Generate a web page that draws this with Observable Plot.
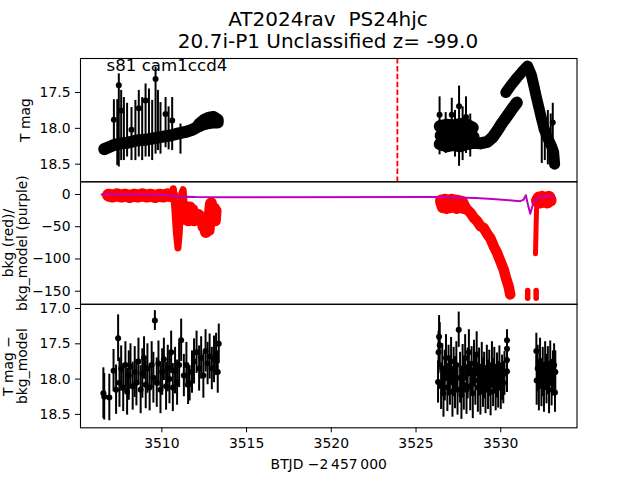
<!DOCTYPE html>
<html>
<head>
<meta charset="utf-8">
<script src="https://cdn.jsdelivr.net/npm/d3@7"></script>
<script src="https://cdn.jsdelivr.net/npm/@observablehq/plot@0.6"></script>
<style>
  html, body { margin: 0; padding: 0; background: #fff; }
  #fig { position: relative; width: 640px; height: 480px; overflow: hidden; font-family: "DejaVu Sans", sans-serif; color: #000; }
  #fig svg { position: absolute; left: 0; top: 0; }
  #ttl { position: absolute; left: 0; top: 9px; width: 656px; text-align: center; font-size: 20px; line-height: 21.6px; white-space: pre; }
</style>
</head>
<body>
<div id="fig">
  <div id="ttl"></div>
</div>
<script>
// ---------------- text ----------------
const titleLines = ["AT2024rav  PS24hjc", "20.7i-P1 Unclassified z= -99.0"];
const sectorLabel = "s81 cam1ccd4";
const xLabel = "BTJD \u22122\u2009457\u2009000";
const yLabelTop = ["T mag"];
const yLabelMid = ["bkg (red)/", "bkg_model (purple)"];
const yLabelBot = ["T mag \u2212", "bkg_model"];

// ---------------- axes ticks ----------------
const xTicks = [3510, 3515, 3520, 3525, 3530];
const yTicksTop = [17.5, 18.0, 18.5];
const yTicksMid = [0, -50, -100, -150];
const yTicksBot = [17.0, 17.5, 18.0, 18.5];
const xDomain = [3505.2, 3534.5];
const yDomainTop = [18.746, 17.025];
const yDomainMid = [-170.3, 19.7];
const yDomainBot = [18.69, 16.94];

// discovery epoch (dashed red line)
const discoveryT = [3523.9];

// ---------------- top panel: T mag (dense band, [t, mag]) ----------------
const topBandA = [[3506.6,18.29],[3506.9,18.26],[3507.2,18.23],[3507.6,18.21],[3508.0,18.20],[3508.5,18.17],[3509.0,18.16],[3509.5,18.14],[3510.0,18.12],[3510.5,18.10],[3511.0,18.07],[3511.4,18.05],[3511.8,18.02],[3512.1,17.98],[3512.4,17.95],[3512.7,17.93],[3513.0,17.92],[3513.3,17.92]];
const topBandA2 = [[3512.2,17.94],[3512.5,17.88],[3512.8,17.85],[3513.05,17.84],[3513.3,17.88]];
const topBandB1 = [[3526.40,17.97],[3526.8,17.95],[3527.2,17.96],[3527.6,17.94],[3528.0,17.95],[3528.35,17.99]];
const topBandBm = [[3526.45,18.10],[3526.9,18.08],[3527.3,18.11],[3527.7,18.08],[3528.1,18.10],[3528.4,18.12]];
const topBandB2 = [[3526.40,18.22],[3526.8,18.25],[3527.2,18.23],[3527.6,18.25],[3528.0,18.22],[3528.4,18.20],[3528.8,18.21],[3529.2,18.19],[3529.5,18.13],[3529.8,18.03],[3530.1,17.92],[3530.4,17.82],[3530.7,17.72],[3530.95,17.64]];
const topBandB3 = [[3530.30,17.50],[3530.6,17.40],[3530.97,17.29],[3531.3,17.20],[3531.58,17.13],[3531.8,17.25],[3531.95,17.40],[3532.1,17.56],[3532.25,17.71],[3532.4,17.86],[3532.54,17.99],[3532.7,18.10],[3532.84,18.17],[3533.0,18.25],[3533.12,18.33],[3533.18,18.50]];
// error bars [t, top, bottom] and points [t, mag]
const topBars = [[3507.17,17.60,18.31],[3507.37,17.60,18.52],[3507.46,17.24,18.54],[3507.60,17.47,18.45],[3507.76,17.57,18.45],[3507.95,17.65,18.40],[3508.21,17.71,18.45],[3508.44,17.61,18.45],[3508.64,17.47,18.40],[3508.84,17.57,18.45],[3509.04,17.38,18.40],[3509.24,17.45,18.40],[3509.43,17.61,18.45],[3509.63,17.15,18.36],[3509.77,17.47,18.31],[3509.92,17.64,18.36],[3510.22,17.57,18.27],[3510.40,17.70,18.30],[3510.61,17.57,18.31],[3511.10,17.94,18.36],
  [3526.39,17.56,18.37],[3526.75,17.78,18.35],[3527.11,17.58,18.32],[3527.30,17.75,18.40],[3527.54,17.41,18.53],[3527.75,17.70,18.45],[3527.95,17.56,18.35],[3528.20,17.80,18.40],[3532.42,17.75,18.49],[3532.60,17.85,18.45],[3532.78,17.75,18.51],[3532.95,17.80,18.55],[3533.07,17.65,18.39]];
const topPoints = [[3507.17,17.88],[3507.46,17.40],[3507.60,17.75],[3508.21,18.02],[3508.64,17.72],[3509.04,17.61],[3509.63,17.31],[3510.22,17.80],[3510.61,17.89],
  [3526.39,17.81],[3527.11,17.81],[3527.54,17.69],[3527.95,17.84],[3532.42,18.02],[3533.07,17.92]];

// ---------------- middle panel: bkg (red) and bkg_model (purple), [t, value] ----------------
const bkgA1 = [[3506.85,-1],[3507.1,-2.5],[3507.35,-0.5],[3507.6,-2.5],[3507.85,-1],[3508.1,-3],[3508.35,-1],[3508.6,-2.5],[3508.85,-0.5],[3509.1,-2.5],[3509.35,-1],[3509.6,-3],[3509.85,-1],[3510.1,-2.5],[3510.35,-0.5],[3510.6,-2]];
const bkgA2 = [[3510.6,-2],[3510.68,9],[3510.76,-20],[3510.86,-60],[3510.95,-83],[3511.02,-62],[3511.1,-25],[3511.18,2],[3511.26,7.5],[3511.32,-18],[3511.40,-30]];
const bkgA3 = [[3511.32,-18],[3511.40,-38],[3511.48,-22],[3511.56,-40],[3511.64,-20],[3511.72,-38],[3511.80,-24],[3511.90,-40],[3511.99,-33],[3512.08,-38],[3512.18,-32],[3512.28,-38],[3512.38,-36],[3512.46,-50],[3512.54,-38],[3512.60,-58],[3512.68,-40],[3512.76,-55],[3512.84,-30],[3512.90,-14],[3512.96,-28],[3513.02,-40],[3513.08,-22],[3513.13,-40],[3513.17,-25]];
const bkgB1 = [[3526.5,-10],[3526.6,-19],[3526.7,-9],[3526.8,-20],[3526.9,-10],[3527.0,-19],[3527.1,-9],[3527.2,-18],[3527.3,-10],[3527.4,-20],[3527.5,-11],[3527.6,-19],[3527.7,-12],[3527.8,-20]];
const bkgB2 = [[3527.7,-14],[3527.85,-17],[3528.0,-23],[3528.2,-28],[3528.41,-36],[3528.6,-41],[3528.8,-49],[3529.0,-52],[3529.2,-61],[3529.39,-68],[3529.6,-81],[3529.79,-91],[3530.0,-105],[3530.18,-117],[3530.3,-129],[3530.47,-143],[3530.56,-155]];
const bkgC = [[3532.15,-10],[3532.25,-5],[3532.35,-12],[3532.45,-4],[3532.55,-11],[3532.65,-5],[3532.75,-12],[3532.85,-4],[3532.93,-9]];
const bkgRise = [[3532.05,-92],[3532.07,-70],[3532.09,-45],[3532.11,-25],[3532.14,-10]];
const bkgLow1 = [[3531.59,-149],[3531.59,-161]];
const bkgLow2 = [[3532.09,-149],[3532.09,-161]];
const bkgModel = [[3506.44,0],[3507.0,0.8],[3507.5,-0.3],[3508.0,0.6],[3508.5,-0.5],[3509.0,0.2],[3509.5,-0.8],[3510.0,-0.4],[3510.5,-1.5],[3510.8,-2.8],[3511.1,-3.8],[3511.5,-3.6],[3512.0,-4.0],[3513.5,-4.2],
  [3526.2,-4.0],[3527.5,-4.5],[3528.5,-5.5],[3529.5,-7],[3530.5,-9],[3531.16,-10.4],[3531.35,-8],[3531.48,-1.1],[3531.6,-15],[3531.74,-29.8],[3531.9,-15],[3532.04,-7.8],[3532.3,-4],[3532.53,-2.6],[3533.12,-2.6]];

// ---------------- bottom panel: T mag - bkg_model, [t, mag, err] ----------------
const corrA = [[3506.55,18.20,.36],[3506.60,18.25,.33],[3506.90,18.26,.33],[3507.15,17.88,.30],[3507.30,18.15,.35],[3507.42,17.42,.33],[3507.50,18.05,.35],[3507.60,17.85,.32],[3507.72,18.12,.34],[3507.85,17.80,.33],[3507.95,18.18,.33],[3508.05,17.95,.35],[3508.15,17.82,.32],[3508.28,18.10,.34],[3508.40,17.90,.36],[3508.50,18.05,.33],[3508.62,17.75,.33],[3508.75,18.15,.34],[3508.85,17.92,.35],[3508.95,17.70,.30],[3509.05,18.08,.34],[3509.15,17.85,.35],[3509.28,18.12,.33],[3509.40,17.80,.33],[3509.50,17.98,.36],[3509.59,17.17,.14],[3509.70,18.05,.35],[3509.80,17.78,.32],[3509.92,18.15,.34],[3510.02,17.90,.33],[3510.12,17.72,.30],[3510.25,18.10,.34],[3510.35,17.85,.33],[3510.45,18.00,.35],[3510.55,17.62,.30],[3510.65,18.12,.34],[3510.78,17.88,.33],[3510.90,18.05,.32],[3511.02,17.80,.32],[3511.14,17.45,.30],[3511.30,17.95,.30],[3511.45,17.80,.32],[3511.55,18.08,.28],[3511.64,18.06,.25],[3511.78,17.90,.30],[3511.90,17.75,.32],[3512.05,17.62,.30],[3512.20,17.85,.32],[3512.32,17.70,.30],[3512.45,17.95,.32],[3512.58,17.60,.30],[3512.70,17.78,.30],[3512.82,17.68,.32],[3512.95,17.85,.30],[3513.08,17.72,.33],[3513.20,17.65,.30],[3513.30,17.90,.30],[3513.36,17.50,.28]];
const corrB = [[3526.30,18.04,.30],[3526.33,17.62,.30],[3526.36,17.40,.30],[3526.40,17.52,.32],[3526.48,18.10,.33],[3526.55,17.85,.35],[3526.62,18.20,.34],[3526.70,17.95,.36],[3526.77,17.70,.33],[3526.85,18.12,.34],[3526.92,17.88,.36],[3527.00,18.02,.35],[3527.07,17.75,.34],[3527.15,18.18,.36],[3527.22,17.90,.35],[3527.30,18.05,.37],[3527.38,17.80,.33],[3527.45,18.15,.36],[3527.52,17.30,.25],[3527.60,17.98,.36],[3527.68,18.22,.35],[3527.75,17.85,.34],[3527.82,18.08,.36],[3527.90,17.70,.33],[3527.98,18.15,.35],[3528.05,17.92,.36],[3528.12,17.62,.32],[3528.20,18.10,.35],[3528.28,17.88,.34],[3528.35,18.20,.36],[3528.42,17.78,.33],[3528.50,18.02,.35],[3528.58,17.65,.32],[3528.65,18.12,.35],[3528.72,17.90,.34],[3528.80,18.18,.33],[3528.88,17.82,.34],[3528.95,18.05,.35],[3529.02,17.95,.33],[3529.10,18.15,.34],[3529.18,17.85,.33],[3529.25,18.08,.35],[3529.32,17.92,.33],[3529.40,18.18,.34],[3529.48,17.80,.33],[3529.55,18.05,.34],[3529.62,17.88,.33],[3529.70,18.12,.33],[3529.78,17.95,.32],[3529.85,18.08,.33],[3529.92,17.85,.32],[3530.00,18.10,.33],[3530.08,17.98,.32],[3530.15,18.05,.30],[3530.22,17.92,.31],[3530.37,17.45,.15],[3530.37,17.57,.20],[3530.37,17.73,.30],[3530.37,17.89,.30]];
const corrC = [[3532.10,17.60,.25],[3532.12,18.02,.35],[3532.18,17.85,.33],[3532.25,18.10,.35],[3532.32,17.75,.33],[3532.40,18.05,.34],[3532.48,17.90,.35],[3532.55,18.12,.35],[3532.62,17.80,.33],[3532.70,18.00,.35],[3532.78,17.88,.34],[3532.85,18.15,.34],[3532.92,17.78,.32],[3533.00,18.05,.33],[3533.08,17.92,.32],[3533.15,17.80,.30],[3533.20,18.19,.28],[3533.22,17.90,.30]];

// ---------------- drawing ----------------
document.getElementById("ttl").textContent = titleLines.join("\n");

const W = 640, H = 480, ML = 80, MR = 63.5;
const FONT = "DejaVu Sans";
const T = d => d[0], V = d => d[1];

function base(mTop, mBottom) {
  return {
    width: W, height: H, marginLeft: ML, marginRight: MR, marginTop: mTop, marginBottom: H - mBottom,
    style: {background: "transparent", fontFamily: FONT, fontSize: "13.9px", overflow: "visible", color: "black"}
  };
}
const band = (data, w, color) => Plot.line(data, {x: T, y: V, stroke: color, strokeWidth: w, strokeLinecap: "round", strokeLinejoin: "round", curve: "linear"});
const yLab = (txt, dx) => Plot.text([txt], {frameAnchor: "left", dx, rotate: -90, textAnchor: "middle", lineAnchor: "middle", fontSize: 13.9, fill: "black"});

const panelTop = Plot.plot({
  ...base(58, 181.3),
  x: {domain: xDomain, axis: null},
  y: {domain: yDomainTop, ticks: yTicksTop, tickFormat: d3.format(".1f"), tickSize: 5, tickPadding: 5, label: null},
  marks: [
    band(topBandA, 12, "black"),
    band(topBandA2, 12, "black"),
    band(topBandB1, 12, "black"),
    band(topBandBm, 12, "black"),
    band(topBandB2, 12, "black"),
    band(topBandB3, 11, "black"),
    Plot.ruleX(topBars, {x: T, y1: d => d[1], y2: d => d[2], stroke: "black", strokeWidth: 2}),
    Plot.dot(topPoints, {x: T, y: V, r: 3, fill: "black", stroke: "none"}),
    Plot.ruleX(discoveryT, {stroke: "red", strokeWidth: 1.8, strokeDasharray: "5.5,2.4"}),
    Plot.text([sectorLabel], {frameAnchor: "top-left", textAnchor: "start", lineAnchor: "bottom", dx: 26, dy: 12, fontSize: 16.67, fill: "black"}),
    yLab(yLabelTop[0], -55),
    Plot.frame({stroke: "black", strokeWidth: 1.1})
  ]
});

const panelMid = Plot.plot({
  ...base(181.3, 303.8),
  x: {domain: xDomain, axis: null},
  y: {domain: yDomainMid, ticks: yTicksMid, tickFormat: d3.format("d"), tickSize: 5, tickPadding: 5, label: null},
  marks: [
    band(bkgA1, 13, "red"),
    band(bkgA2, 7, "red"),
    band(bkgA3, 12, "red"),
    band(bkgB1, 13, "red"),
    band(bkgB2, 10.5, "red"),
    band(bkgC, 12.5, "red"),
    band(bkgRise, 5, "red"),
    band(bkgLow1, 5.5, "red"),
    band(bkgLow2, 5.5, "red"),
    Plot.line(bkgModel, {x: T, y: V, stroke: "#bf00bf", strokeWidth: 2}),
    yLab(yLabelMid[0], -71.5),
    yLab(yLabelMid[1], -57.5),
    Plot.frame({stroke: "black", strokeWidth: 1.1})
  ]
});

const corr = [...corrA, ...corrB, ...corrC];
const panelBot = Plot.plot({
  ...base(303.8, 427.3),
  x: {domain: xDomain, ticks: xTicks, tickFormat: d => String(d), tickSize: 5, tickPadding: 5.5, label: null},
  y: {domain: yDomainBot, ticks: yTicksBot, tickFormat: d3.format(".1f"), tickSize: 5, tickPadding: 5, label: null},
  marks: [
    Plot.ruleX(corr, {x: T, y1: d => d[1] - d[2], y2: d => d[1] + d[2], stroke: "black", strokeWidth: 2}),
    Plot.dot(corr, {x: T, y: V, r: 3, fill: "black", stroke: "none"}),
    Plot.text([xLabel], {frameAnchor: "bottom", dy: 36.6, lineAnchor: "middle", textAnchor: "middle", fontSize: 13.9, fill: "black"}),
    yLab(yLabelBot[0], -72),
    yLab(yLabelBot[1], -58),
    Plot.frame({stroke: "black", strokeWidth: 1.1})
  ]
});

const fig = document.getElementById("fig");
fig.appendChild(panelTop);
fig.appendChild(panelMid);
fig.appendChild(panelBot);
</script>
</body>
</html>
